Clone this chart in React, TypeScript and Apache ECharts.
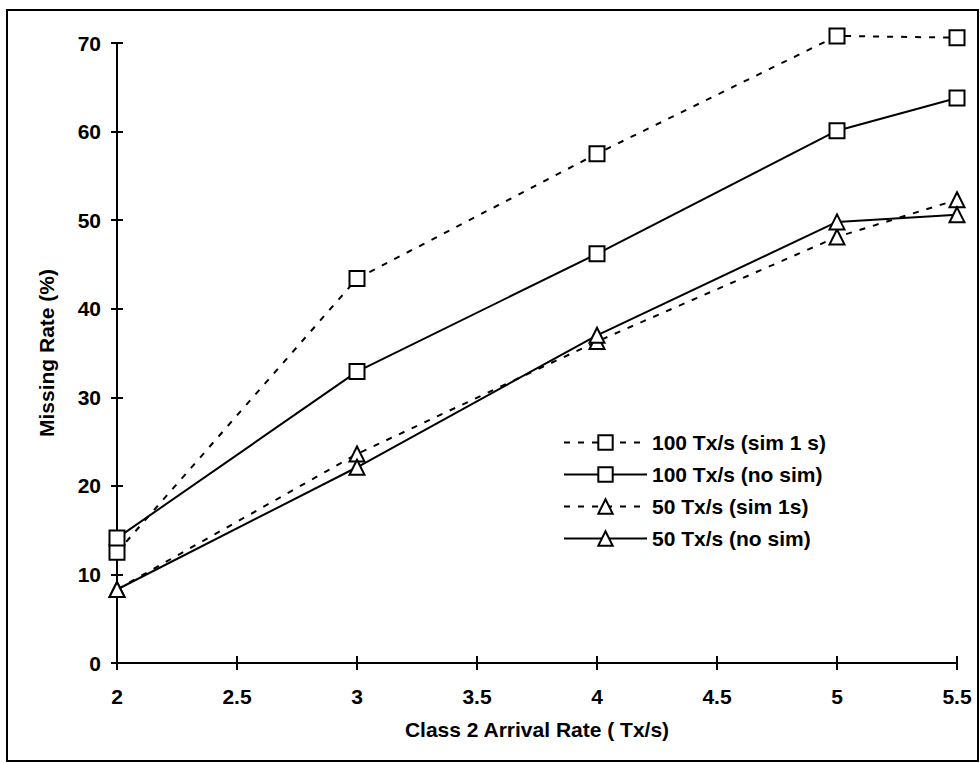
import React, { useEffect, useRef } from "react";
import * as echarts from "echarts";

const xValues = [2, 3, 4, 5, 5.5];
const seriesNames = ["100 Tx/s (sim 1 s)", "100 Tx/s (no sim)", "50 Tx/s (sim 1s)", "50 Tx/s (no sim)"];
const sim100 = [12.5, 43.4, 57.5, 70.8, 70.6];
const noSim100 = [14.1, 32.9, 46.2, 60.1, 63.8];
const sim50 = [8.3, 23.6, 36.3, 48.1, 52.3];
const noSim50 = [8.3, 22.1, 37.0, 49.8, 50.6];
const xTicks = [2, 2.5, 3, 3.5, 4, 4.5, 5, 5.5];
const yTicks = [0, 10, 20, 30, 40, 50, 60, 70];

const FONT = "Liberation Sans, Arial, sans-serif";
const FS = 21;

export default function App() {
  const ref = useRef<HTMLDivElement>(null);
  useEffect(() => {
    if (!ref.current) return;
    const chart = echarts.init(ref.current, null, { renderer: "svg" });
    const pair = (ys: number[]) => xValues.map((x, i) => [x, ys[i]]);
    const mk = (name: string, ys: number[], dashed: boolean, symbol: string, size: number) => ({
      name,
      type: "line",
      data: pair(ys),
      clip: false,
      symbol,
      symbolSize: size,
      showAllSymbol: true,
      lineStyle: { color: "#000", width: 2, type: dashed ? [6, 8] : "solid" },
      itemStyle: { color: "#fff", borderColor: "#000", borderWidth: 2 },
      emphasis: { disabled: true },
    });
    const xAxisBase = {
      type: "value",
      min: 2,
      max: 5.5,
      interval: 0.5,
      splitLine: { show: false },
    };
    const yAxisBase = {
      type: "value",
      min: 0,
      max: 70,
      interval: 10,
      splitLine: { show: false },
    };
    const txt = { fontSize: FS, fontWeight: "bold", color: "#000", fontFamily: FONT };
    chart.setOption({
      animation: false,
      backgroundColor: "#fff",
      textStyle: { fontFamily: FONT },
      grid: { left: 117, right: 23, top: 43, bottom: 100 },
      xAxis: [
        {
          ...xAxisBase,
          name: "Class 2 Arrival Rate ( Tx/s)",
          nameLocation: "middle",
          nameGap: 56,
          nameTextStyle: txt,
          axisLine: { lineStyle: { color: "#000", width: 2 } },
          axisTick: { show: true, length: 7, lineStyle: { color: "#000", width: 2 } },
          axisLabel: {
            ...txt,
            margin: 23,
            formatter: (v: number) => (xTicks.includes(v) ? String(v) : ""),
          },
        },
        {
          ...xAxisBase,
          position: "bottom",
          axisLine: { show: false },
          axisTick: { show: true, inside: true, length: 7, lineStyle: { color: "#000", width: 2 } },
          axisLabel: { show: false },
        },
      ],
      yAxis: [
        {
          ...yAxisBase,
          name: "Missing Rate (%)",
          nameLocation: "middle",
          nameGap: 60,
          nameTextStyle: txt,
          axisLine: { lineStyle: { color: "#000", width: 2 } },
          axisTick: { show: true, length: 6, lineStyle: { color: "#000", width: 2 } },
          axisLabel: {
            ...txt,
            margin: 16,
            formatter: (v: number) => (yTicks.includes(v) ? String(v) : ""),
          },
        },
        {
          ...yAxisBase,
          position: "left",
          axisLine: { show: false },
          axisTick: { show: true, inside: true, length: 6, lineStyle: { color: "#000", width: 2 } },
          axisLabel: { show: false },
        },
      ],
      legend: {
        orient: "vertical",
        left: 563,
        top: 432,
        padding: 0,
        itemWidth: 83,
        itemHeight: 18,
        itemGap: 11,
        textStyle: { ...txt, lineHeight: 21 },
        data: seriesNames,
      },
      graphic: [
        {
          type: "rect",
          shape: { x: 7, y: 10, width: 971, height: 751 },
          style: { fill: "none", stroke: "#000", lineWidth: 2 },
          silent: true,
        },
      ],
      series: [
        mk(seriesNames[0], sim100, true, "rect", 15),
        mk(seriesNames[1], noSim100, false, "rect", 15),
        mk(seriesNames[2], sim50, true, "triangle", 15),
        mk(seriesNames[3], noSim50, false, "triangle", 15),
      ],
    });
    return () => chart.dispose();
  }, []);
  return <div ref={ref} style={{ position: "fixed", left: 0, top: 0, width: 980, height: 763 }} />;
}
